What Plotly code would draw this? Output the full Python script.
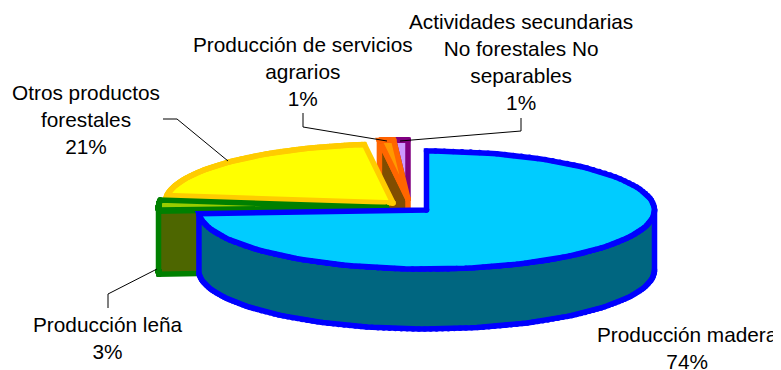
import numpy as np
import plotly.graph_objects as go

categories = ['Producción madera', 'Producción leña', 'Otros productos<br>forestales',
              'Producción de servicios<br>agrarios',
              'Actividades secundarias<br>No forestales No<br>separables']
shares = [74, 3, 21, 1, 1]

# Chart geometry, in page pixels (the page body has an 8px margin, so the axes start at 8)
page_w = 781
page_h = 370
body_margin = 8
radius_x = 228
radius_y = 59
depth = 60
edge_width = 5.5
slice_centers = [(426.5, 210), (386.5, 207.5), (393, 203), (408, 199), (408, 199)]
face_colors = ['#00CCFF', '#99CC00', '#FFFF00', '#FF9900', '#CC99FF']
edge_colors = ['#0000FF', '#008000', '#FFCC00', '#FF6600', '#800080']
wall_colors = ['#006680', '#4D6600', '#808000', '#804D00', '#664D80']
label_pos = [(687.5, 347.5), (108, 338), (85.5, 119), (303, 71), (521, 62)]
leaders = [
    None,
    [(108, 308), (108, 294), (157, 269)],
    [(163, 119), (177, 119), (228, 161)],
    [(303, 113), (303, 127), (387, 141)],
    [(521, 118), (521, 131), (400, 141)],
]

# Pie angles: clockwise from 12 o'clock, so they run negative
ends = 90 - np.cumsum(shares) * 3.6
starts = np.concatenate([[90], ends[:-1]])


def rim(center, a0, a1, dy=0):
    t = np.radians(np.linspace(a0, a1, 120))
    return center[0] + radius_x * np.cos(t), center[1] + dy - radius_y * np.sin(t)


fig = go.Figure()


def add_poly(xs, ys, fill, edge):
    # markers at the vertices give the round corners of the original outlines
    fig.add_trace(go.Scatter(x=xs, y=ys, mode='lines+markers', fill='toself', fillcolor=fill,
                             line=dict(color=edge, width=edge_width),
                             marker=dict(color=edge, size=edge_width, line=dict(width=0)),
                             hoverinfo='skip', showlegend=False))


# Back slices first, the big one goes on top
for i in [4, 3, 2, 1, 0]:
    c = slice_centers[i]
    a0, a1 = starts[i], ends[i]
    # wall on the radial edge where the slice starts
    if i == 3:
        rx, ry = rim(c, a0, a0)
        add_poly([rx[0], c[0], c[0], rx[0], rx[0]],
                 [ry[0], c[1], c[1] + depth, ry[0] + depth, ry[0]], wall_colors[i], edge_colors[i])
    # green slice: radial wall and outer wall are both visible
    if i == 1:
        tx, ty = rim(c, -180, a0)
        bx, by = rim(c, a0, -180, depth + 3)
        add_poly(np.r_[c[0], c[0], bx, tx, c[0]],
                 np.r_[c[1], c[1] + depth + 3, by, ty, c[1]], wall_colors[i], edge_colors[i])
    # blue slice: outer wall along the front of the rim
    if i == 0:
        tx, ty = rim(c, 0, a1)
        bx, by = rim(c, a1, 0, depth)
        add_poly(np.r_[tx, bx, tx[0]], np.r_[ty, by, ty[0]], wall_colors[i], edge_colors[i])
    fx, fy = rim(c, a0, a1)
    add_poly(np.r_[c[0], fx, c[0]], np.r_[c[1], fy, c[1]], face_colors[i], edge_colors[i])

# Leader lines and labels
for path in leaders:
    if path:
        fig.add_trace(go.Scatter(x=[p[0] for p in path], y=[p[1] for p in path], mode='lines',
                                 line=dict(color='#000000', width=1), hoverinfo='skip', showlegend=False))

for cat, share, pos in zip(categories, shares, label_pos):
    fig.add_annotation(x=pos[0], y=pos[1], text=f'{cat}<br>{share}%', showarrow=False,
                       font=dict(family='Liberation Sans', size=20.8, color='#000000'), align='center')

fig.update_layout(
    width=page_w, height=page_h,
    margin=dict(l=0, r=0, t=0, b=0),
    paper_bgcolor='#FFFFFF', plot_bgcolor='#FFFFFF',
    xaxis=dict(range=[body_margin, page_w + body_margin], visible=False, fixedrange=True),
    yaxis=dict(range=[page_h + body_margin, body_margin], visible=False, fixedrange=True),
)
fig.write_html('out.html')
